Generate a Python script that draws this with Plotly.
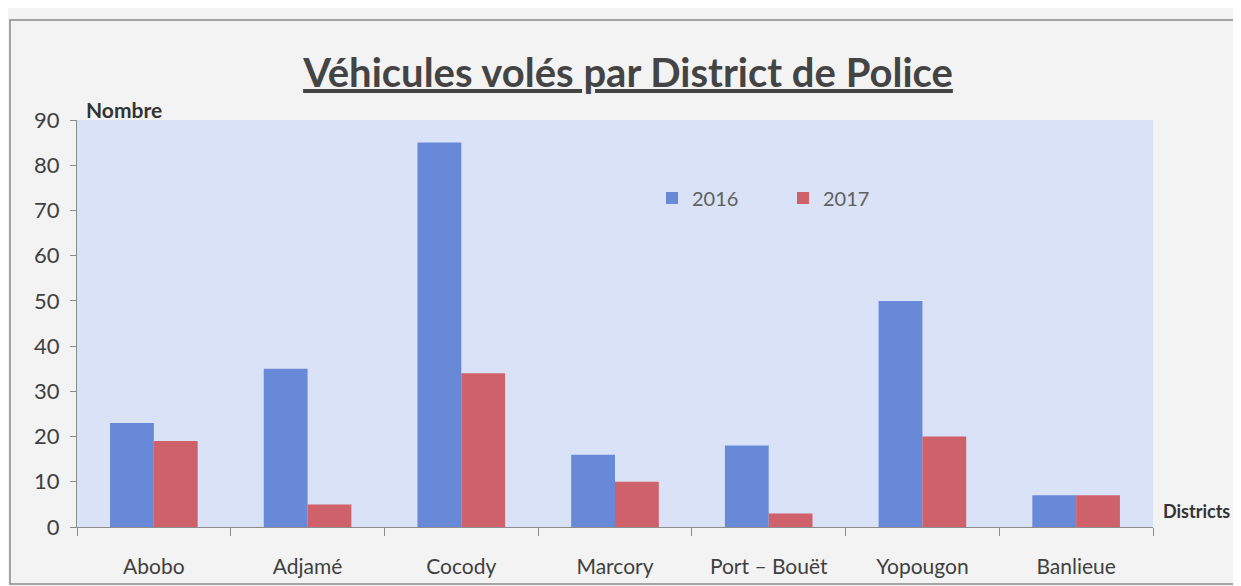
import plotly.graph_objects as go

districts = ["Abobo", "Adjamé", "Cocody", "Marcory", "Port – Bouët", "Yopougon", "Banlieue"]
v2016 = [23, 35, 85, 16, 18, 50, 7]
v2017 = [19, 5, 34, 10, 3, 20, 7]
years = ["2016", "2017"]
yticks = [0, 10, 20, 30, 40, 50, 60, 70, 80, 90]

OFF = 8  # default page body margin
W, H = 1241 - OFF, 586 - OFF
L, R, T, B = 77 - OFF, 88, 120 - OFF, 59
pw, ph = W - L - R, H - T - B

def px_x(p):
    return (p - OFF - L) / pw

def px_y(p):
    return (H - B - (p - OFF)) / ph

FONT = "Lato"
fig = go.Figure()
fig.add_trace(go.Bar(x=districts, y=v2016, name=years[0], marker_color="#6889d8", marker_line_width=0))
fig.add_trace(go.Bar(x=districts, y=v2017, name=years[1], marker_color="#cf616b", marker_line_width=0))

fig.update_layout(
    width=W, height=H,
    margin=dict(l=L, r=R, t=T, b=B, autoexpand=False),
    paper_bgcolor="#f3f3f3",
    plot_bgcolor="#d9e2f6",
    barmode="group",
    bargap=0.43,
    bargroupgap=0,
    font=dict(family=FONT, size=21, color="#404040"),
    title=dict(
        text="<b><u>Véhicules volés par District de Police</u></b>",
        x=(628 - OFF) / W, xanchor="center",
        y=1 - (73 - OFF) / H, yanchor="middle", yref="container",
        font=dict(family=FONT, size=40, color="#444444"),
    ),
    legend=dict(
        orientation="h",
        x=px_x(652), xanchor="left",
        y=px_y(198), yanchor="middle",
        bgcolor="rgba(0,0,0,0)",
        font=dict(family=FONT, size=20, color="#606060"),
        itemwidth=30,
        entrywidth=86,
        traceorder="normal",
    ),
    xaxis=dict(
        showgrid=False,
        showline=True, linecolor="#8c8c8c", linewidth=1,
        ticks="outside", tickson="boundaries", ticklen=8, tickcolor="#8c8c8c",
        ticklabelstandoff=21,
        tickfont=dict(family=FONT, size=21, color="#404040"),
    ),
    yaxis=dict(
        range=[0, 90],
        tickvals=yticks,
        showgrid=False, zeroline=False,
        showline=True, linecolor="#8c8c8c", linewidth=1,
        ticks="outside", ticklen=6, tickcolor="#8c8c8c",
        ticklabelstandoff=6,
        tickfont=dict(family=FONT, size=22, color="#404040"),
    ),
    annotations=[
        dict(text="<b>Nombre</b>", xref="paper", yref="paper",
             x=px_x(84), y=px_y(110), xanchor="left", yanchor="middle",
             showarrow=False, font=dict(family=FONT, size=21, color="#333333")),
        dict(text="<b>Districts</b>", xref="paper", yref="paper",
             x=px_x(1161), y=px_y(511), xanchor="left", yanchor="middle",
             showarrow=False, font=dict(family=FONT, size=18, color="#333333")),
    ],
    shapes=[
        dict(type="rect", xref="paper", yref="paper",
             x0=px_x(10), x1=px_x(1260), y0=px_y(584), y1=px_y(20),
             line=dict(color="#8a8a8a", width=1.5), fillcolor="rgba(0,0,0,0)", layer="below"),
    ],
)

fig.write_html("out.html")
